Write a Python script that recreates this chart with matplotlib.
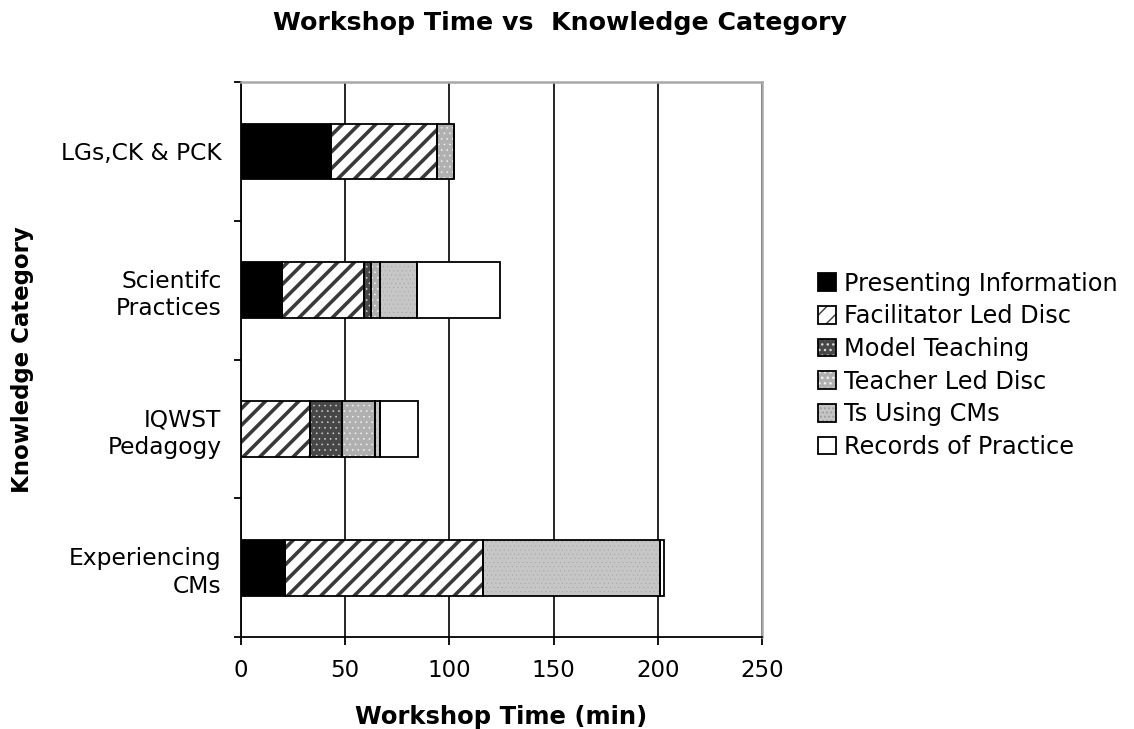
import matplotlib
matplotlib.use("Agg")
import matplotlib.pyplot as plt
from matplotlib.patches import Patch
from matplotlib.ticker import FixedLocator
import numpy as np

plt.rcParams['font.family'] = ['DejaVu Sans']

categories = ["LGs,CK & PCK", "Scientifc\nPractices", "IQWST\nPedagogy", "Experiencing\nCMs"]
series_names = ["Presenting Information", "Facilitator Led Disc", "Model Teaching",
                "Teacher Led Disc", "Ts Using CMs", "Records of Practice"]
presenting_info = [43, 19.5, 0, 21]
facilitator_led = [51, 39.5, 33.3, 95]
model_teaching = [0, 3.5, 15, 0]
teacher_led = [8, 4.3, 16, 0]
ts_using_cms = [0, 17.7, 2.3, 85]
records_practice = [0, 40, 18.5, 2]
x_ticks = [0, 50, 100, 150, 200, 250]

series = [presenting_info, facilitator_led, model_teaching,
          teacher_led, ts_using_cms, records_practice]
# face colour, hatch, hatch colour, hatch line width
styles = [
    ("black", None, "black", 1.0),
    ("white", "//", "#3a3a3a", 2.6),
    ("#474747", "...", "#d8d8d8", 0.4),
    ("#b0b0b0", "...", "#f4f4f4", 0.4),
    ("#c6c6c6", "....", "#a0a0a0", 0.2),
    ("white", None, "white", 1.0),
]


def hatched_patch(fc, hatch, hc, hlw, **kw):
    with plt.rc_context({'hatch.linewidth': hlw}):
        p = Patch(facecolor=fc, hatch=hatch, edgecolor=hc, linewidth=0, **kw)
    if hasattr(p, "set_hatch_linewidth"):
        p.set_hatch_linewidth(hlw)
    return p


fig = plt.figure(figsize=(11.34, 7.29), dpi=100)
ax = fig.add_axes([0.2125, 0.126, 0.4595, 0.7615])

y = np.arange(len(categories))
left = np.zeros(len(categories))
handles = []
for vals, (fc, hatch, hc, hlw) in zip(series, styles):
    vals = np.array(vals, dtype=float)
    with plt.rc_context({'hatch.linewidth': hlw}):
        bars = ax.barh(y, vals, left=left, height=0.4, color=fc, hatch=hatch,
                       edgecolor=hc, linewidth=0, zorder=3)
    for b in bars:
        if hasattr(b, "set_hatch_linewidth"):
            b.set_hatch_linewidth(hlw)
    ax.barh(y, vals, left=left, height=0.4, fill=False,
            edgecolor="black", linewidth=1.3, zorder=4)
    left += vals
    handles.append((hatched_patch(fc, hatch, hc, hlw),
                    Patch(fill=False, edgecolor="black", linewidth=1.3)))

ax.set_xlim(0, 250)
ax.set_ylim(3.5, -0.5)
ax.set_xticks(x_ticks)
ax.set_xticklabels([str(t) for t in x_ticks], fontsize=16.5)
ax.set_yticks(y)
ax.set_yticklabels(categories, fontsize=16.8, linespacing=1.25)
ax.tick_params(axis='y', which='major', length=0, pad=14)
ax.yaxis.set_minor_locator(FixedLocator([-0.5, 0.5, 1.5, 2.5, 3.5]))
ax.tick_params(axis='y', which='minor', length=5, width=1.3, direction='out')
ax.tick_params(axis='x', length=6, width=1.3, direction='out', pad=10)

ax.xaxis.grid(True, color="black", linewidth=1.2, zorder=1)
ax.set_axisbelow(True)
for side in ("left", "bottom"):
    ax.spines[side].set_color("black")
    ax.spines[side].set_linewidth(1.3)
for side in ("top", "right"):
    ax.spines[side].set_color("#a8a8a8")
    ax.spines[side].set_linewidth(1.8)

ax.set_xlabel("Workshop Time (min)", fontsize=17.5, fontweight="bold", labelpad=16)
ax.set_ylabel("Knowledge Category", fontsize=16.5, fontweight="bold")
ax.yaxis.set_label_coords(-0.397, 0.5)
fig.text(0.494, 0.968, "Workshop Time vs  Knowledge Category", ha="center", va="center",
         fontsize=18.2, fontweight="bold")

fig.legend(handles, series_names, loc="center left", bbox_to_anchor=(0.7125, 0.499),
           frameon=False, fontsize=17.3, handlelength=0.75, handleheight=0.75,
           handletextpad=0.33, labelspacing=0.36, borderaxespad=0)

fig.savefig("out.png", dpi=100, facecolor="white")
